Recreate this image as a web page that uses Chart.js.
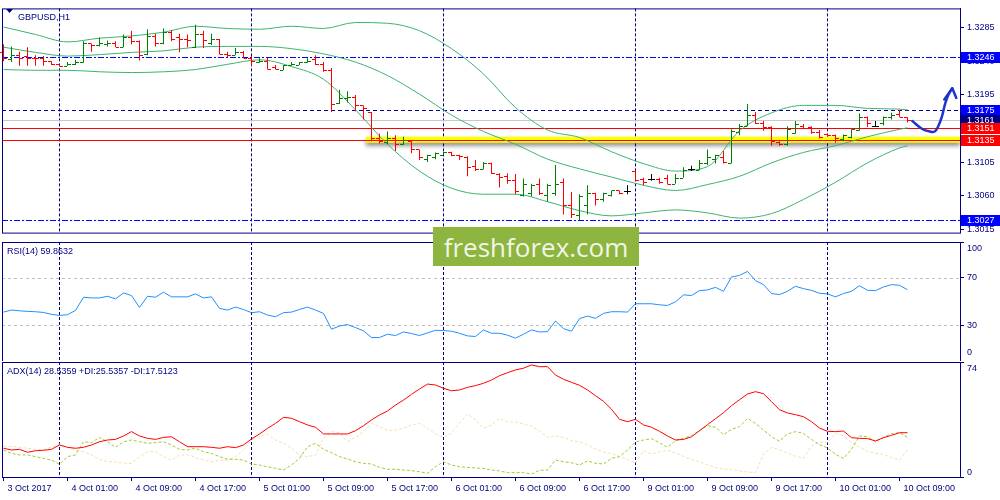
<!DOCTYPE html>
<html>
<head>
<meta charset="utf-8">
<script src="https://cdn.jsdelivr.net/npm/chart.js@4/dist/chart.umd.min.js"></script>
<style>
html, body { margin: 0; padding: 0; background: #fff; }
#wrap { position: relative; width: 1000px; height: 500px; overflow: hidden; background: #fff; }
#wrap canvas { position: absolute; left: 0; }
#mark { position: absolute; left: 433px; top: 227px; width: 206px; height: 39px; background: #8db53f;
        color: #f1f6e6; font: 26px "Open Sans", sans-serif; display: flex; align-items: center; justify-content: center; }
</style>
</head>
<body>
<div id="wrap">
  <canvas id="priceChart" width="1000" height="241" style="top:0;width:1000px;height:241px"></canvas>
  <canvas id="rsiChart" width="1000" height="120" style="top:241px;width:1000px;height:120px"></canvas>
  <canvas id="adxChart" width="1000" height="139" style="top:361px;width:1000px;height:139px"></canvas>
  <div id="mark">freshforex.com</div>
</div>
<script>
// GBPUSD H1, one bar per hour from 3 Oct 17:00 to 10 Oct 10:00
var timeLabels = ['3 Oct 2017', '4 Oct 01:00', '4 Oct 09:00', '4 Oct 17:00', '5 Oct 01:00', '5 Oct 09:00',
    '5 Oct 17:00', '6 Oct 01:00', '6 Oct 09:00', '6 Oct 17:00', '9 Oct 01:00', '9 Oct 09:00',
    '9 Oct 17:00', '10 Oct 01:00', '10 Oct 09:00'];
var labelEvery = 8;
var daySeparators = [7, 31, 55, 79, 103];

var opens = [1.3253,1.3243,1.3248,1.3247,1.3245,1.3244,1.3240,1.3236,1.3234,1.3236,
    1.3239,1.3264,1.3262,1.3263,1.3265,1.3259,1.3273,1.3267,1.3250,1.3274,
    1.3265,1.3279,1.3272,1.3270,1.3259,1.3276,1.3265,1.3270,1.3250,1.3248,
    1.3253,1.3245,1.3239,1.3241,1.3233,1.3229,1.3235,1.3235,1.3239,1.3243,
    1.3236,1.3229,1.3184,1.3191,1.3192,1.3181,1.3172,1.3137,1.3132,1.3137,
    1.3129,1.3133,1.3122,1.3109,1.3112,1.3115,1.3118,1.3115,1.3112,1.3100,
    1.3096,1.3104,1.3089,1.3086,1.3081,1.3061,1.3064,1.3076,1.3061,1.3064,
    1.3078,1.3048,1.3034,1.3048,1.3064,1.3055,1.3061,1.3067,1.3066,1.3093,
    1.3083,1.3083,1.3083,1.3084,1.3076,1.3084,1.3096,1.3095,1.3104,1.3109,
    1.3112,1.3104,1.3146,1.3154,1.3168,1.3158,1.3152,1.3132,1.3129,1.3144,
    1.3154,1.3152,1.3146,1.3143,1.3141,1.3136,1.3138,1.3148,1.3165,1.3154,
    1.3157,1.3165,1.3170,1.3165];
var highs = [1.3263,1.3260,1.3253,1.3259,1.3248,1.3247,1.3240,1.3236,1.3239,1.3242,
    1.3267,1.3264,1.3272,1.3268,1.3267,1.3276,1.3281,1.3268,1.3283,1.3277,
    1.3284,1.3282,1.3277,1.3276,1.3289,1.3281,1.3277,1.3270,1.3253,1.3258,
    1.3254,1.3247,1.3244,1.3245,1.3235,1.3235,1.3239,1.3239,1.3244,1.3248,
    1.3239,1.3231,1.3202,1.3200,1.3195,1.3181,1.3172,1.3143,1.3146,1.3141,
    1.3139,1.3133,1.3122,1.3115,1.3118,1.3119,1.3119,1.3115,1.3113,1.3108,
    1.3105,1.3104,1.3090,1.3090,1.3089,1.3083,1.3076,1.3083,1.3076,1.3101,
    1.3083,1.3065,1.3062,1.3074,1.3064,1.3064,1.3067,1.3067,1.3074,1.3094,
    1.3084,1.3089,1.3084,1.3088,1.3089,1.3098,1.3100,1.3108,1.3122,1.3115,
    1.3120,1.3149,1.3156,1.3183,1.3172,1.3160,1.3153,1.3133,1.3153,1.3160,
    1.3156,1.3153,1.3148,1.3143,1.3142,1.3142,1.3149,1.3170,1.3166,1.3160,
    1.3166,1.3171,1.3175,1.3165];
var lows = [1.3240,1.3239,1.3234,1.3234,1.3234,1.3234,1.3235,1.3233,1.3234,1.3235,
    1.3238,1.3253,1.3260,1.3260,1.3259,1.3259,1.3263,1.3241,1.3248,1.3260,
    1.3263,1.3267,1.3252,1.3259,1.3258,1.3258,1.3262,1.3249,1.3245,1.3248,
    1.3244,1.3234,1.3238,1.3229,1.3229,1.3228,1.3234,1.3235,1.3238,1.3235,
    1.3226,1.3172,1.3183,1.3185,1.3173,1.3162,1.3133,1.3130,1.3129,1.3120,
    1.3128,1.3117,1.3108,1.3105,1.3109,1.3115,1.3113,1.3108,1.3086,1.3093,
    1.3095,1.3089,1.3071,1.3076,1.3062,1.3059,1.3059,1.3061,1.3052,1.3060,
    1.3035,1.3030,1.3027,1.3035,1.3047,1.3052,1.3059,1.3062,1.3062,1.3080,
    1.3074,1.3080,1.3076,1.3075,1.3076,1.3084,1.3093,1.3094,1.3101,1.3103,
    1.3103,1.3103,1.3141,1.3153,1.3156,1.3147,1.3127,1.3127,1.3127,1.3143,
    1.3149,1.3143,1.3137,1.3139,1.3131,1.3133,1.3137,1.3147,1.3152,1.3152,
    1.3154,1.3162,1.3165,1.3158];
var closes = [1.3244,1.3248,1.3245,1.3245,1.3244,1.3240,1.3236,1.3234,1.3236,1.3239,
    1.3264,1.3262,1.3265,1.3265,1.3259,1.3272,1.3267,1.3248,1.3274,1.3265,
    1.3279,1.3270,1.3270,1.3268,1.3276,1.3269,1.3270,1.3250,1.3249,1.3253,
    1.3245,1.3240,1.3241,1.3230,1.3230,1.3235,1.3236,1.3239,1.3241,1.3236,
    1.3229,1.3183,1.3191,1.3192,1.3181,1.3177,1.3137,1.3133,1.3137,1.3129,
    1.3134,1.3123,1.3112,1.3114,1.3117,1.3118,1.3114,1.3113,1.3099,1.3096,
    1.3104,1.3090,1.3085,1.3081,1.3066,1.3076,1.3074,1.3064,1.3074,1.3076,
    1.3048,1.3035,1.3059,1.3064,1.3055,1.3064,1.3067,1.3064,1.3066,1.3081,
    1.3079,1.3083,1.3079,1.3076,1.3084,1.3095,1.3096,1.3104,1.3112,1.3114,
    1.3105,1.3147,1.3153,1.3168,1.3158,1.3152,1.3133,1.3129,1.3149,1.3156,
    1.3151,1.3146,1.3139,1.3141,1.3137,1.3141,1.3149,1.3165,1.3157,1.3154,
    1.3165,1.3168,1.3166,1.3161];

// Bollinger bands, read every 4 bars
var bbIndex = [0,4,8,12,16,20,24,28,32,36,40,44,48,52,56,60,64,68,72,76,80,84,88,92,96,100,104,108,112,113];
var bbUpper = [1.3286,1.3276,1.3266,1.3271,1.3274,1.3279,1.3287,1.3284,1.3283,1.3287,1.3284,1.3292,1.3291,1.3281,1.3257,
    1.3223,1.3178,1.3148,1.3138,1.3119,1.3103,1.3093,1.3099,1.3147,1.3171,1.3181,1.3181,1.3177,1.3176,1.3175];
var bbMiddle = [1.3259,1.3252,1.3247,1.3249,1.3252,1.3254,1.3259,1.3260,1.3260,1.3257,1.3250,1.3239,1.3221,1.3196,1.3168,
    1.3146,1.3129,1.3109,1.3096,1.3085,1.3074,1.3067,1.3075,1.3086,1.3104,1.3118,1.3127,1.3139,1.3149,1.3151];
var bbLower = [1.3229,1.3228,1.3228,1.3226,1.3225,1.3226,1.3229,1.3236,1.3242,1.3233,1.3216,1.3175,1.3129,1.3093,1.3070,
    1.3062,1.3062,1.3052,1.3040,1.3033,1.3037,1.3041,1.3037,1.3030,1.3036,1.3055,1.3078,1.3104,1.3124,1.3127];

var priceTicks = [1.3015, 1.3060, 1.3105, 1.3150, 1.3195, 1.3240, 1.3285];
var priceLevels = [1.3246, 1.3175, 1.3161, 1.3151, 1.3135, 1.3027];
var zoneLevel = 1.3135;
var zoneStart = 45.3;

// hand drawn forecast arrow (bar index, price)
var arrowIndex = [113.6, 114.9, 115.8, 116.4, 116.8, 117.3, 117.7, 118.1, 118.6];
var arrowPrice = [1.3160, 1.3149, 1.3146, 1.3146, 1.3152, 1.3166, 1.3183, 1.3195, 1.3204];
var arrowHeadIndex = [117.6, 118.6, 119.1];
var arrowHeadPrice = [1.3189, 1.3204, 1.3191];

var rsiValues = [41.1,42.8,42.2,41.7,41.4,40.8,39.2,38.3,38.9,42.5,
    53.6,53.0,53.0,54.4,52.2,57.2,55.0,45.0,54.4,53.6,
    57.8,53.9,53.9,53.9,56.4,53.0,53.9,44.2,42.8,45.3,
    43.3,40.6,41.4,38.6,37.2,40.6,41.1,43.3,45.3,42.8,
    40.0,26.7,29.4,30.6,28.1,25.3,19.7,19.7,22.5,21.4,
    24.4,23.1,21.4,23.6,25.8,25.6,25.0,23.3,21.1,20.6,
    26.1,23.3,23.3,21.7,19.2,22.5,26.1,24.4,24.7,33.6,
    27.2,25.0,35.6,37.8,35.8,40.0,41.4,41.4,41.1,48.1,
    48.1,48.1,47.2,46.7,49.7,55.6,55.0,59.2,59.7,61.9,
    58.6,70.6,71.9,75.3,67.5,64.2,56.7,55.8,58.6,62.8,
    60.8,59.4,56.9,56.4,53.9,56.7,58.6,63.3,59.4,59.2,
    62.2,64.2,63.6,59.9];
var rsiTicks = [0, 30, 70, 100];
var rsiLevels = [30, 70];

var adxValues = [18.5,17.4,17.8,15.9,16.9,17.2,17.8,20.6,19.1,18.5,
    19.1,20.6,22.7,23.8,24.2,26.4,29.2,26.4,24.9,24.2,
    25.5,25.9,22.7,19.5,19.5,19.5,19.1,18.5,19.5,18.9,
    20.6,24.5,27.7,31.3,34.5,38.4,37.8,35.6,33.5,32.0,
    27.7,27.7,27.7,27.7,29.8,33.0,36.7,39.9,42.5,46.3,
    49.5,53.2,56.6,59.8,59.2,57.1,55.5,56.0,57.7,58.8,
    60.3,62.4,65.2,67.1,68.9,70.0,72.1,71.0,71.0,65.6,
    62.9,60.9,59.0,56.0,52.3,48.7,43.6,37.1,35.6,37.1,
    33.5,32.0,29.4,26.4,23.8,24.2,25.9,29.8,33.7,37.5,
    41.4,45.9,49.7,53.4,54.9,53.6,48.5,43.3,41.2,40.1,
    38.8,35.6,31.5,29.4,29.2,29.6,25.3,24.9,24.7,23.2,
    25.3,26.8,28.5,28.5];
var plusDI = [17.4,15.2,14.2,14.2,13.1,12.0,10.9,8.2,13.1,14.2,
    22.7,22.1,25.5,22.7,19.1,22.7,23.8,22.7,21.7,22.1,
    22.7,20.6,17.8,17.4,18.5,16.3,15.2,13.1,11.4,11.4,
    10.9,8.4,7.7,6.6,5.6,4.5,7.7,12.0,19.5,21.7,
    17.8,15.6,13.1,11.6,9.8,8.8,8.4,6.2,5.0,5.0,
    4.5,4.1,3.4,2.4,6.6,9.8,7.7,6.6,6.2,5.8,
    5.6,4.5,3.9,2.8,2.8,2.8,1.9,4.3,4.5,10.9,
    9.8,9.2,7.7,10.3,8.8,8.4,12.0,13.1,17.4,22.5,
    23.8,24.7,22.1,19.1,23.4,24.9,26.6,29.8,33.0,32.0,
    27.2,30.7,32.4,37.8,34.5,30.2,25.9,23.0,27.7,29.2,
    28.1,24.2,20.8,18.7,14.6,12.0,17.8,26.4,25.9,22.7,
    25.5,27.9,28.5,25.5];
var minusDI = [19.5,19.9,19.1,18.5,17.8,17.8,19.1,21.2,19.1,17.4,
    16.3,14.2,11.4,9.8,9.8,8.8,8.8,13.1,16.3,16.3,
    13.1,10.9,14.2,14.2,12.7,10.9,9.8,10.9,10.9,13.1,
    17.4,23.8,25.9,27.7,23.8,21.7,18.5,14.2,13.1,14.2,
    24.9,29.2,28.5,22.7,25.5,29.2,34.5,32.4,29.8,30.2,
    31.3,33.5,34.5,31.3,27.7,25.5,28.5,34.5,40.5,36.7,
    31.3,33.5,37.8,35.4,35.4,34.1,32.6,29.6,25.5,26.4,
    25.5,23.4,22.7,20.8,18.0,16.1,15.0,13.3,11.4,8.8,
    16.9,14.8,16.1,17.2,15.6,13.3,11.4,9.7,7.9,6.2,
    5.1,4.7,3.9,3.2,2.8,14.8,19.1,17.6,15.4,13.3,
    12.0,19.7,22.5,21.9,28.1,26.4,22.3,19.3,16.5,15.2,
    14.6,12.4,10.9,17.5];
var adxTicks = [0, 74];

// ---- look ----
var NAVY = '#000080';
var BULL = '#008000', BEAR = '#ff0000', DOJI = '#000000';
var BAND = '#3cb371';
var axisFont = { family: '"Liberation Sans", Arial, sans-serif', size: 9 };
var fontCss = '9px "Liberation Sans", Arial, sans-serif';
var xMin = -0.1875, xMax = 119.5625;
var levelStyles = [
    { line: '#0000ff', dash: [6, 2, 2, 2], box: '#0000ff' },
    { line: '#0000a0', dash: [4, 3], box: '#0000ff' },
    { line: '#c8c8c8', dash: [], box: '#000080' },
    { line: '#ff0000', dash: [], box: '#ff0000' },
    { line: '#ff0000', dash: [], box: '#ff0000' },
    { line: '#0000ff', dash: [6, 2, 2, 2], box: '#0000ff' }
];

function points(xs, ys) {
    return ys.map(function(v, k) { return { x: xs[k], y: v }; });
}
function series(ys) {
    return ys.map(function(v, i) { return { x: i, y: v }; });
}
function barColor(i) {
    if (closes[i] > opens[i]) return BULL;
    if (closes[i] < opens[i]) return BEAR;
    return DOJI;
}

function xAxis(show) {
    return {
        type: 'linear', min: xMin, max: xMax, offset: false, display: show,
        afterFit: function(a) { if (show) a.height = 23; },
        afterBuildTicks: function(a) {
            a.ticks = timeLabels.map(function(t, k) { return { value: k * labelEvery }; });
        },
        ticks: {
            autoSkip: false, maxRotation: 0, align: 'start', labelOffset: 4, padding: 2,
            color: NAVY, font: axisFont,
            callback: function(v, k) { return timeLabels[k]; }
        },
        grid: { drawOnChartArea: false, color: NAVY, tickLength: 4 },
        border: { display: false }
    };
}
function yAxis(min, max, tickValues, showLabels) {
    return {
        position: 'right', min: min, max: max,
        afterFit: function(a) { a.width = 40; },
        afterBuildTicks: function(a) {
            a.ticks = tickValues.map(function(v) { return { value: v }; });
        },
        ticks: {
            display: showLabels, color: NAVY, font: axisFont, padding: 3,
            callback: function(v) { return v.toFixed(4); }
        },
        grid: { drawOnChartArea: false, color: NAVY, tickLength: 4 },
        border: { color: NAVY }
    };
}

function drawSeparators(chart) {
    var ctx = chart.ctx, a = chart.chartArea, xs = chart.scales.x;
    ctx.save();
    ctx.strokeStyle = NAVY;
    ctx.lineWidth = 1;
    ctx.setLineDash([3, 2]);
    daySeparators.forEach(function(idx) {
        var px = Math.floor(xs.getPixelForValue(idx)) + 0.5;
        ctx.beginPath();
        ctx.moveTo(px, a.top);
        ctx.lineTo(px, a.bottom);
        ctx.stroke();
    });
    ctx.restore();
}
function drawFrame(chart, title, titleX) {
    var ctx = chart.ctx, a = chart.chartArea;
    ctx.save();
    ctx.strokeStyle = NAVY;
    ctx.lineWidth = 1;
    ctx.strokeRect(a.left + 0.5, a.top + 0.5, a.right - a.left, a.bottom - a.top);
    ctx.fillStyle = NAVY;
    ctx.font = fontCss;
    ctx.textBaseline = 'middle';
    ctx.fillText(title, titleX, a.top + 9.5);
    ctx.restore();
}
function drawSideLabels(chart, values, padTop, padBottom) {
    var ctx = chart.ctx, ys = chart.scales.y;
    ctx.save();
    ctx.fillStyle = NAVY;
    ctx.font = fontCss;
    ctx.textBaseline = 'middle';
    values.forEach(function(v) {
        var py = Math.min(Math.max(ys.getPixelForValue(v), ys.top + padTop), ys.bottom - padBottom);
        ctx.fillText(String(v), ys.left + 7, py);
    });
    ctx.restore();
}

var pricePanel = {
    id: 'pricePanel',
    beforeDatasetsDraw: function(chart) {
        var ctx = chart.ctx, a = chart.chartArea, xs = chart.scales.x, ys = chart.scales.y;
        drawSeparators(chart);
        var zy = ys.getPixelForValue(zoneLevel);
        ctx.save();
        ctx.shadowColor = 'rgba(0,0,0,0.45)';
        ctx.shadowBlur = 4;
        ctx.shadowOffsetY = 3;
        ctx.strokeStyle = '#ffff00';
        ctx.lineWidth = 6;
        ctx.beginPath();
        ctx.moveTo(xs.getPixelForValue(zoneStart), zy);
        ctx.lineTo(a.right, zy);
        ctx.stroke();
        ctx.restore();
        ctx.save();
        ctx.lineWidth = 1;
        priceLevels.forEach(function(v, k) {
            var py = Math.round(ys.getPixelForValue(v)) + 0.5;
            ctx.strokeStyle = levelStyles[k].line;
            ctx.setLineDash(levelStyles[k].dash);
            ctx.beginPath();
            ctx.moveTo(a.left, py);
            ctx.lineTo(a.right, py);
            ctx.stroke();
        });
        ctx.restore();
    },
    afterDatasetDraw: function(chart, args) {
        if (chart.data.datasets[args.index].label !== 'GBPUSD') return;
        var ctx = chart.ctx, xs = chart.scales.x, ys = chart.scales.y;
        ctx.save();
        for (var i = 0; i < closes.length; i++) {
            var px = Math.round(xs.getPixelForValue(i) - 0.5);
            ctx.fillStyle = barColor(i);
            ctx.fillRect(px - 3, Math.round(ys.getPixelForValue(opens[i])), 3, 1);
            ctx.fillRect(px + 1, Math.round(ys.getPixelForValue(closes[i])), 3, 1);
        }
        ctx.restore();
    },
    afterDraw: function(chart) {
        var ctx = chart.ctx, a = chart.chartArea, ys = chart.scales.y;
        drawFrame(chart, 'GBPUSD,H1', 18);
        ctx.save();
        ctx.fillStyle = NAVY;
        ctx.beginPath();
        ctx.moveTo(6, 9);
        ctx.lineTo(13, 9);
        ctx.lineTo(9.5, 13);
        ctx.closePath();
        ctx.fill();
        ctx.font = fontCss;
        ctx.textBaseline = 'middle';
        priceLevels.forEach(function(v, k) {
            var py = Math.round(ys.getPixelForValue(v));
            ctx.fillStyle = levelStyles[k].box;
            ctx.fillRect(a.right + 1, py - 5, 39, 11);
            ctx.fillStyle = '#ffffff';
            ctx.fillText(v.toFixed(4), a.right + 7, py + 0.5);
        });
        ctx.restore();
    }
};

var rsiPanel = {
    id: 'rsiPanel',
    beforeDatasetsDraw: function(chart) {
        var ctx = chart.ctx, a = chart.chartArea, ys = chart.scales.y;
        drawSeparators(chart);
        ctx.save();
        ctx.strokeStyle = '#c0c0c0';
        ctx.setLineDash([3, 3]);
        rsiLevels.forEach(function(v) {
            var py = Math.round(ys.getPixelForValue(v)) + 0.5;
            ctx.beginPath();
            ctx.moveTo(a.left, py);
            ctx.lineTo(a.right, py);
            ctx.stroke();
        });
        ctx.restore();
    },
    afterDraw: function(chart) {
        drawFrame(chart, 'RSI(14) 59.8632', 7);
        drawSideLabels(chart, rsiTicks, 7, 8);
    }
};

var adxPanel = {
    id: 'adxPanel',
    beforeDatasetsDraw: function(chart) { drawSeparators(chart); },
    afterDraw: function(chart) {
        drawFrame(chart, 'ADX(14) 28.5359 +DI:25.5357 -DI:17.5123', 7);
        drawSideLabels(chart, adxTicks, 7, 4);
    }
};

function baseOptions(padding, scales) {
    return {
        responsive: false,
        animation: false,
        events: [],
        layout: { padding: padding },
        plugins: { legend: { display: false }, tooltip: { enabled: false } },
        scales: scales
    };
}
function lineSet(label, data, color, dash) {
    return {
        type: 'line', label: label, data: data, borderColor: color, borderWidth: 1,
        borderDash: dash || [], pointRadius: 0, tension: 0, fill: false
    };
}

window.onload = function() {
    var barIdx = closes.map(function(c, i) { return i; });

    var bandUpper = lineSet('Upper', points(bbIndex, bbUpper), BAND);
    var bandMiddle = lineSet('Middle', points(bbIndex, bbMiddle), BAND);
    var bandLower = lineSet('Lower', points(bbIndex, bbLower), BAND);
    [bandUpper, bandMiddle, bandLower].forEach(function(d) { d.cubicInterpolationMode = 'monotone'; });

    var arrow = lineSet('Arrow', points(arrowIndex, arrowPrice), '#1d35c9');
    arrow.borderWidth = 2.5;
    arrow.tension = 0.4;
    arrow.borderCapStyle = 'round';
    var arrowHead = lineSet('Arrow head', points(arrowHeadIndex, arrowHeadPrice), '#1d35c9');
    arrowHead.borderWidth = 2.5;
    arrowHead.borderCapStyle = 'round';
    arrowHead.borderJoinStyle = 'round';

    new Chart(document.getElementById('priceChart').getContext('2d'), {
        type: 'line',
        data: {
            datasets: [arrow, arrowHead, {
                type: 'bar',
                label: 'GBPUSD',
                data: barIdx.map(function(i) { return { x: i, y: [lows[i], highs[i]] }; }),
                backgroundColor: barIdx.map(barColor),
                barThickness: 1,
                minBarLength: 1,
                borderWidth: 0,
                inflateAmount: 0
            }, bandUpper, bandMiddle, bandLower]
        },
        options: baseOptions({ left: 2, top: 2, right: 0, bottom: 1 }, {
            x: xAxis(false),
            y: yAxis(1.30106, 1.33109, priceTicks, true)
        }),
        plugins: [pricePanel]
    });

    new Chart(document.getElementById('rsiChart').getContext('2d'), {
        type: 'line',
        data: { datasets: [lineSet('RSI', series(rsiValues), '#1e90ff')] },
        options: baseOptions({ left: 2, top: 1, right: 0, bottom: 0 }, {
            x: xAxis(false),
            y: yAxis(0, 100, rsiTicks, false)
        }),
        plugins: [rsiPanel]
    });

    new Chart(document.getElementById('adxChart').getContext('2d'), {
        type: 'line',
        data: {
            datasets: [
                lineSet('ADX', series(adxValues), '#ff0000'),
                lineSet('+DI', series(plusDI), '#9acd32', [3, 2]),
                lineSet('-DI', series(minusDI), '#f5deb3', [3, 2])
            ]
        },
        options: baseOptions({ left: 2, top: 1, right: 0, bottom: 0 }, {
            x: xAxis(true),
            y: yAxis(0, 74, adxTicks, false)
        }),
        plugins: [adxPanel]
    });
};
</script>
</body>
</html>
